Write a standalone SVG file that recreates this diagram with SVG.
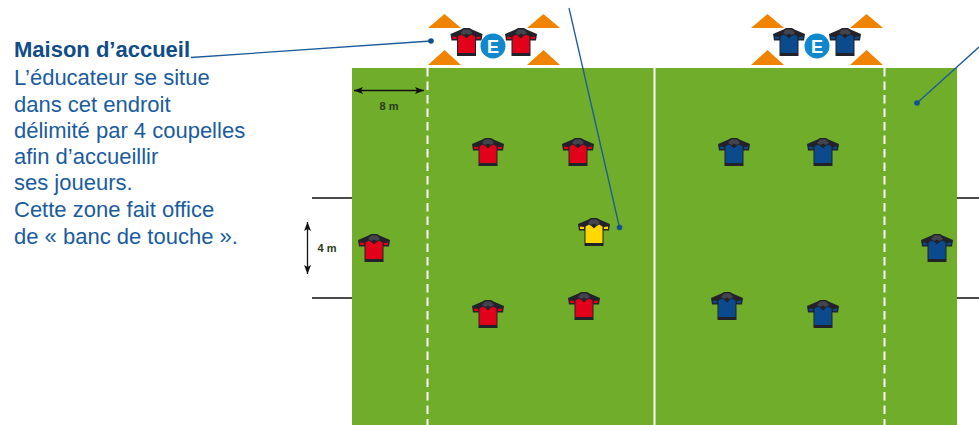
<svg xmlns="http://www.w3.org/2000/svg" width="979" height="425" viewBox="0 0 979 425">
<style>
.t{font-family:"Liberation Sans",Arial,sans-serif;font-size:22px;fill:#1a5c9e}
.b{font-weight:700;fill:#0f4c8a}
.m{font-family:"Liberation Sans",Arial,sans-serif;font-size:11px;font-weight:700;fill:#2a3a1a;text-anchor:middle}
.w{stroke:#fff;stroke-width:2;fill:none}
.d{stroke-dasharray:8.500 5}
.k{stroke:#111;stroke-width:1.300;fill:none}
.c{stroke:#1c5a9a;stroke-width:1.300;fill:none}
.o{fill:#14508f}
.a{stroke:#111;stroke-width:1.300;fill:none;marker-start:url(#ah);marker-end:url(#ah)}
.co{fill:#f08400}
.eb{fill:#1088cc}
.et{font-family:"Liberation Sans",Arial,sans-serif;font-size:18px;font-weight:700;fill:#fff;text-anchor:middle}
</style>
<defs>
<marker id="ah" markerUnits="userSpaceOnUse" markerWidth="10" markerHeight="10" refX="9" refY="5" orient="auto-start-reverse"><path d="M0 1.500L9 5L0 8.500L2 5z" fill="#111"/></marker>
<g id="cones"><path class="co" d="M0 28L16.500 14L33 28zM99 28L115.500 14L132 28zM0 65L16.500 50L33 65zM99 65L115.500 50L132 65z"/></g>
<g id="sd"><path d="M-16 6L-5.500 1.500L-3 0L3 0L5.500 1.500L16 6L15 12.500L9.500 12.500L9.500 28L-9.500 28L-9.500 12.500L-15 12.500z" fill="#22222a"/><path d="M-6 5L-3 1.500L3 1.500L6 5L2.500 7L0 5.500L-2.500 7z" fill="#44444c"/></g>
<g id="red"><use href="#sd"/><path d="M-8.500 8.500L-5 6.500L-2 8.500L0 10.500L2 8.500L5 6.500L8.500 8.500L8.500 25L-8.500 25z" fill="#e3001b"/><path d="M-14 8.500L-10 9L-10 11L-14 11zM10 9L14 8.500L14 11L10 11z" fill="#e3001b"/></g>
<g id="blue"><use href="#sd"/><path d="M-8.500 8.500L-5 6.500L-2 8.500L0 10.500L2 8.500L5 6.500L8.500 8.500L8.500 25L-8.500 25z" fill="#0b4a8c"/><path d="M-14 8.500L-10 9L-10 11L-14 11zM10 9L14 8.500L14 11L10 11z" fill="#0b4a8c"/></g>
<g id="yellow"><use href="#sd"/><path d="M-8.500 8.500L-5 6.500L-2 8.500L0 10.500L2 8.500L5 6.500L8.500 8.500L8.500 25L-8.500 25z" fill="#ffd800"/><path d="M-14 8.500L-10 9L-10 11L-14 11zM10 9L14 8.500L14 11L10 11z" fill="#ffd800"/></g>
</defs>
<g id="field">
<rect x="352" y="68" width="605" height="357" fill="#6fad2a"/>
<path class="w" d="M654.500 68V425"/>
<path class="w d" d="M427.500 68V425M884.500 68V425"/>
</g>
<g id="connectors">
<path class="k" d="M312 198H352M312 298H352M957 198H979M957 298H979"/>
<path class="a" d="M354 90.500H424"/>
<path class="a" d="M307.500 222V274"/>
<path class="c" d="M191 57.500L431 41"/>
<circle class="o" cx="431" cy="41" r="2.800"/>
<path class="c" d="M569 8L619.500 227.500"/>
<circle class="o" cx="619.500" cy="227.500" r="2.800"/>
<path class="c" d="M979 47L917 103"/>
<circle class="o" cx="917" cy="103" r="2.800"/>
</g>
<g id="label-text">
<text class="t b" x="14" y="57">Maison d’accueil</text>
<text class="t" x="14" y="85">L’éducateur se situe</text>
<text class="t" x="14" y="112">dans cet endroit</text>
<text class="t" x="14" y="138">délimité par 4 coupelles</text>
<text class="t" x="14" y="164">afin d’accueillir</text>
<text class="t" x="14" y="190">ses joueurs.</text>
<text class="t" x="14" y="217">Cette zone fait office</text>
<text class="t" x="14" y="244">de « banc de touche ».</text>
</g>
<g id="dim-8m"><text class="m" x="389" y="110">8 m</text></g>
<g id="dim-4m"><text class="m" x="327" y="252">4 m</text></g>
<g id="home-left">
<use href="#cones" x="428"/>
<use href="#red" x="466.500" y="28"/>
<use href="#red" x="521" y="28"/>
<circle class="eb" cx="493" cy="46" r="12.500"/>
<text class="et" x="493" y="52.500">E</text>
</g>
<g id="home-right">
<use href="#cones" x="751"/>
<use href="#blue" x="789" y="28"/>
<use href="#blue" x="845" y="28"/>
<circle class="eb" cx="817" cy="46" r="12.500"/>
<text class="et" x="817" y="52.500">E</text>
</g>
<g id="red-team">
<use href="#red" x="488" y="138"/>
<use href="#red" x="578" y="138"/>
<use href="#red" x="374" y="234"/>
<use href="#red" x="488" y="300"/>
<use href="#red" x="584" y="292"/>
</g>
<g id="yellow-player"><use href="#yellow" x="594" y="218"/></g>
<g id="blue-team">
<use href="#blue" x="734" y="138"/>
<use href="#blue" x="823" y="138"/>
<use href="#blue" x="937" y="234"/>
<use href="#blue" x="727" y="292"/>
<use href="#blue" x="823" y="300"/>
</g>
</svg>
